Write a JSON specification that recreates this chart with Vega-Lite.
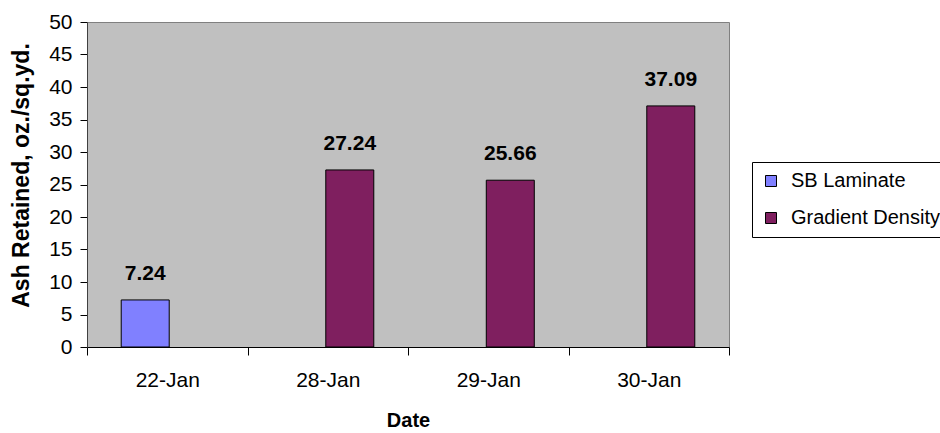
{
  "$schema": "https://vega.github.io/schema/vega-lite/v6.json",
  "width": 642,
  "height": 325,
  "autosize": "none",
  "padding": {"left": 87, "top": 22, "right": 211, "bottom": 86},
  "background": "white",
  "config": {
    "font": "Liberation Sans",
    "view": {"fill": "#C0C0C0", "stroke": "#808080", "strokeWidth": 1}
  },
  "data": {
    "values": [
      {"date": "22-Jan", "series": "SB Laminate", "value": 7.24},
      {"date": "28-Jan", "series": "Gradient Density", "value": 27.24},
      {"date": "29-Jan", "series": "Gradient Density", "value": 25.66},
      {"date": "30-Jan", "series": "Gradient Density", "value": 37.09}
    ]
  },
  "encoding": {
    "x": {
      "field": "date",
      "type": "nominal",
      "sort": ["22-Jan", "28-Jan", "29-Jan", "30-Jan"],
      "scale": {"paddingInner": 0, "paddingOuter": 0},
      "axis": {
        "title": "Date",
        "titleFontSize": 20,
        "titleFontWeight": "bold",
        "titleColor": "#000000",
        "titleY": 79,
        "titleBaseline": "alphabetic",
        "labelAngle": 0,
        "labelFontSize": 21,
        "labelColor": "#000000",
        "labelPadding": 14,
        "tickBand": "extent",
        "tickSize": 8,
        "tickColor": "#000000",
        "domainColor": "#000000"
      }
    },
    "xOffset": {
      "field": "series",
      "type": "nominal",
      "sort": ["SB Laminate", "Gradient Density"],
      "scale": {"paddingInner": 0, "paddingOuter": 0.82}
    },
    "y": {
      "field": "value",
      "type": "quantitative",
      "scale": {"domain": [0, 50], "nice": false},
      "axis": {
        "title": "Ash Retained, oz./sq.yd.",
        "titleFontSize": 23,
        "titleFontWeight": "bold",
        "titleColor": "#000000",
        "titleX": -59,
        "titleY": 153,
        "titleBaseline": "alphabetic",
        "titleAngle": -90,
        "values": [0, 5, 10, 15, 20, 25, 30, 35, 40, 45, 50],
        "labelFontSize": 21,
        "labelColor": "#000000",
        "labelPadding": 8,
        "tickSize": 7,
        "tickColor": "#000000",
        "domainColor": "#404040",
        "grid": false
      }
    }
  },
  "layer": [
    {
      "mark": {"type": "bar", "width": 48, "stroke": "#000000", "strokeWidth": 1},
      "encoding": {
        "color": {
          "field": "series",
          "type": "nominal",
          "sort": ["SB Laminate", "Gradient Density"],
          "scale": {"domain": ["SB Laminate", "Gradient Density"], "range": ["#8080FF", "#7F1F5F"]},
          "legend": {
            "title": null,
            "orient": "none",
            "legendX": 665,
            "legendY": 140,
            "padding": 9,
            "strokeColor": "#000000",
            "fillColor": "#FFFFFF",
            "symbolType": "square",
            "symbolSize": 121,
            "symbolStrokeColor": "#000000",
            "symbolStrokeWidth": 1,
            "labelFontSize": 20,
            "labelColor": "#000000",
            "labelOffset": 10,
            "rowPadding": 17
          }
        }
      }
    },
    {
      "mark": {"type": "text", "fontWeight": "bold", "fontSize": 21, "baseline": "alphabetic", "dy": -20, "color": "#000000"},
      "encoding": {
        "text": {"field": "value", "type": "quantitative", "format": ".2f"}
      }
    }
  ]
}
